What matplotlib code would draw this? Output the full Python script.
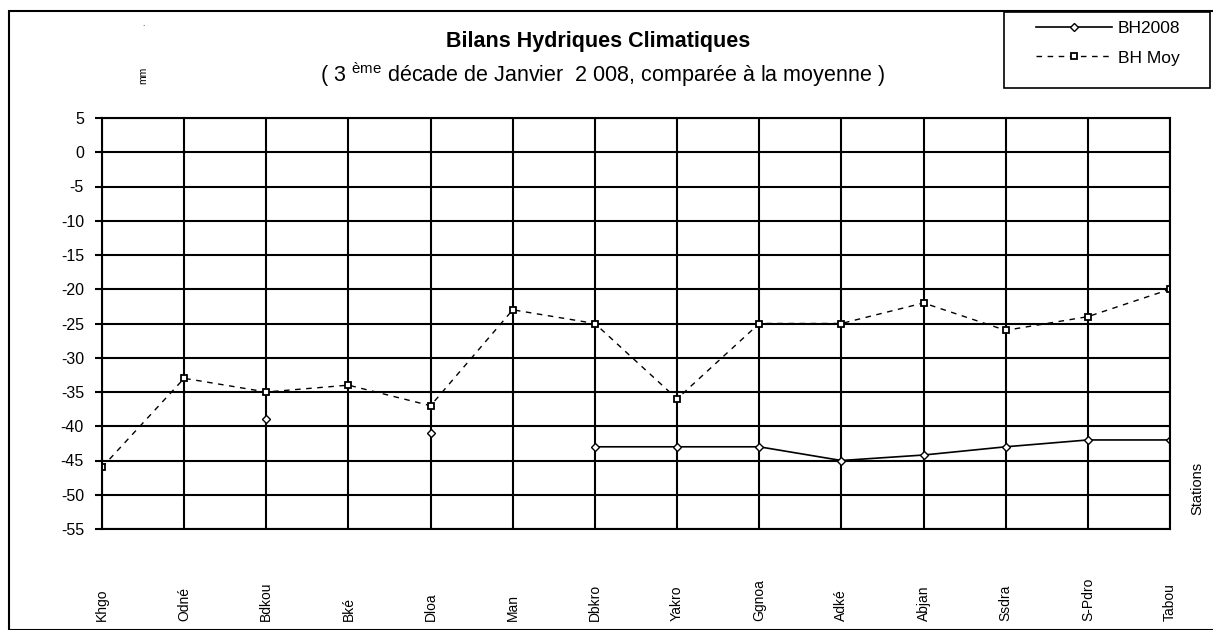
import numpy as np
import matplotlib
matplotlib.use("Agg")
import matplotlib.pyplot as plt
import matplotlib.transforms as mtransforms

plt.rcParams['font.family'] = ['Liberation Sans', 'DejaVu Sans']
plt.rcParams['mathtext.fontset'] = 'custom'
plt.rcParams['mathtext.rm'] = 'Liberation Sans'

stations = ['Khgo', 'Odné', 'Bdkou', 'Bké', 'Dloa', 'Man', 'Dbkro', 'Yakro',
            'Ggnoa', 'Adké', 'Abjan', 'Ssdra', 'S-Pdro', 'Tabou']
bh2008 = [np.nan, np.nan, -39, np.nan, -41, np.nan, -43, -43,
          -43, -45, -44.2, -43, -42, -42]
bh_moy = [-46, -33, -35, -34, -37, -23, -25, -36,
          -25, -25, -22, -26, -24, -20]
yticks = list(range(5, -56, -5))

fig = plt.figure(figsize=(12.13, 6.30), dpi=100)
ax = fig.add_axes([102/1213, 1-529/630, (1170-102)/1213, (529-118)/630])

x = np.arange(len(stations))
ax.plot(x, bh2008, color='black', lw=1.2, marker='D', ms=4.5,
        mfc='white', mec='black', mew=1, label='BH2008')
ax.plot(x, bh_moy, color='black', lw=1, ls=(0, (4, 4)), marker='s', ms=5,
        mfc='white', mec='black', mew=1.3, label='BH Moy')

ax.set_xlim(0, len(stations) - 1)
ax.set_ylim(-55, 5)
ax.set_yticks(yticks)
ax.set_yticklabels([str(v) for v in yticks], fontsize=11.5)
ax.set_xticks(x)
ax.set_xticklabels([])
ax.tick_params(axis='x', length=0)
ax.tick_params(axis='y', length=5, width=1.5, pad=8)
ax.grid(True, color='black', lw=1.5)
for s in ax.spines.values():
    s.set_linewidth(1.5)

trans = mtransforms.blended_transform_factory(ax.transData, fig.transFigure)
for i, name in enumerate(stations):
    ax.text(i, 1 - 621/630, name, transform=trans, rotation=90,
            ha='center', va='bottom', fontsize=10, clip_on=False)

fig.text(1197/1213, 1 - 488/630, 'Stations', rotation=90, ha='center',
         va='center', fontsize=10.5)
fig.text(143/1213, 1 - 75/630, 'mm', rotation=90, ha='center',
         va='center', fontsize=7.5)
fig.text(143/1213, 1 - 25/630, '.', ha='center', va='center', fontsize=6)

fig.text(598/1213, 1 - 42/630, 'Bilans Hydriques Climatiques', ha='center',
         va='center', fontsize=15.5, fontweight='bold')
fig.text(602/1213, 1 - 75/630,
         r'( 3 $^{\mathrm{ème}}$ décade de Janvier  2 008, comparée à la moyenne )',
         ha='center', va='center', fontsize=15.5)

handles, labels = ax.get_legend_handles_labels()
leg = fig.legend(handles, labels, loc='center',
                 bbox_to_anchor=(1108/1213, 1 - 43/630),
                 frameon=False, fontsize=12.5, handlelength=4.4,
                 handletextpad=0.3, labelspacing=0.85)
box = plt.Rectangle((1004/1213, 1 - 88/630), 206/1213, 76/630,
                    transform=fig.transFigure, fill=False,
                    edgecolor='black', lw=1.2)
fig.patches.append(box)

border = plt.Rectangle((9/1213, 0), 1 - 9/1213 + 0.01, 1 - 11/630,
                       transform=fig.transFigure, fill=False,
                       edgecolor='black', lw=1.5)
fig.patches.append(border)

fig.savefig('out.png', dpi=100)
